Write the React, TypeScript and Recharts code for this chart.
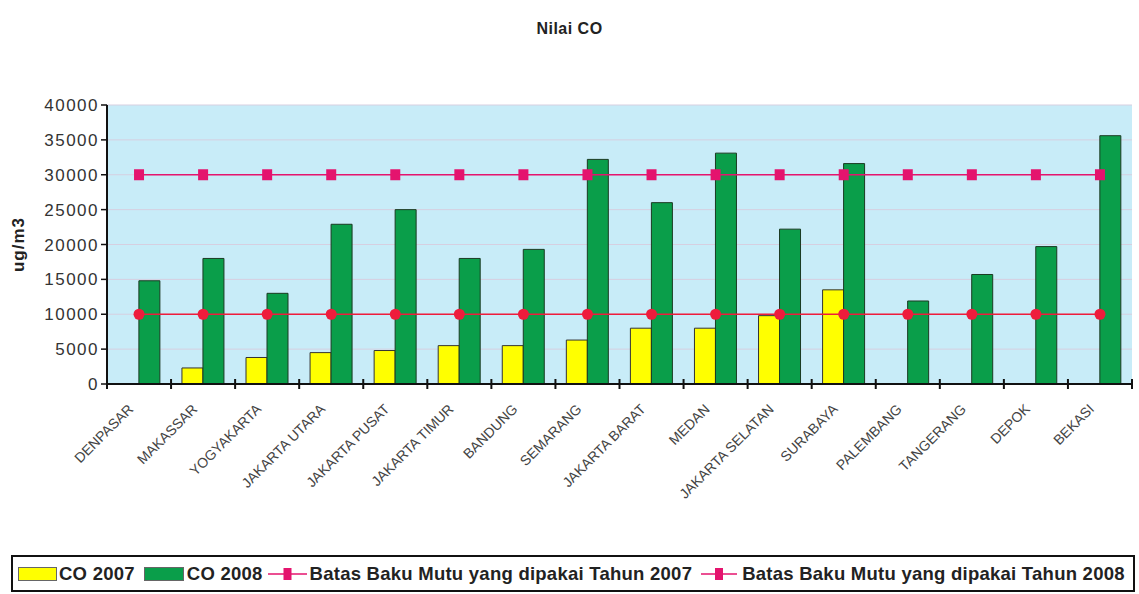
import {
  ComposedChart,
  Bar,
  Line,
  XAxis,
  YAxis,
  CartesianGrid,
} from "recharts";

// cities on the x axis
const cities = [
  "DENPASAR",
  "MAKASSAR",
  "YOGYAKARTA",
  "JAKARTA UTARA",
  "JAKARTA PUSAT",
  "JAKARTA TIMUR",
  "BANDUNG",
  "SEMARANG",
  "JAKARTA BARAT",
  "MEDAN",
  "JAKARTA SELATAN",
  "SURABAYA",
  "PALEMBANG",
  "TANGERANG",
  "DEPOK",
  "BEKASI",
];

// CO values (ug/m3), null = no measurement
const co2007 = [null, 2300, 3800, 4500, 4800, 5500, 5500, 6300, 8000, 8000, 9800, 13500, null, null, null, null];
const co2008 = [14800, 18000, 13000, 22900, 25000, 18000, 19300, 32200, 26000, 33100, 22200, 31600, 11900, 15700, 19700, 35600];

// quality standards
const batas2007 = [30000, 30000, 30000, 30000, 30000, 30000, 30000, 30000, 30000, 30000, 30000, 30000, 30000, 30000, 30000, 30000];
const batas2008 = [10000, 10000, 10000, 10000, 10000, 10000, 10000, 10000, 10000, 10000, 10000, 10000, 10000, 10000, 10000, 10000];

const yTicks = [0, 5000, 10000, 15000, 20000, 25000, 30000, 35000, 40000];

const data = cities.map((city, i) => ({
  city,
  co2007: co2007[i],
  co2008: co2008[i],
  batas2007: batas2007[i],
  batas2008: batas2008[i],
}));

const FONT = "Arial, 'Liberation Sans', sans-serif";

// rotated city label, plus the excel-style tick mark between categories
const CityTick = (props: any) => {
  const { x, y, payload, index } = props;
  const half = payload.offset || 32;
  const tx = x - 5;
  const ty = y + 26;
  return (
    <g>
      <line x1={x - half} x2={x - half} y1={y - 5} y2={y + 5} stroke="#111" strokeWidth={2} />
      {index === cities.length - 1 && (
        <line x1={x + half} x2={x + half} y1={y - 5} y2={y + 5} stroke="#111" strokeWidth={2} />
      )}
      <text
        x={tx}
        y={ty}
        textAnchor="end"
        transform={`rotate(-45, ${tx}, ${ty})`}
        fontSize={14}
        fill="#444"
        fontFamily={FONT}
      >
        {payload.value}
      </text>
    </g>
  );
};

const SquareDot = (props: any) => {
  const { cx, cy } = props;
  if (cx == null || cy == null) return null;
  return <rect x={cx - 5} y={cy - 5.5} width={10} height={11} fill="#e4146e" />;
};

const RoundDot = (props: any) => {
  const { cx, cy } = props;
  if (cx == null || cy == null) return null;
  return <circle cx={cx} cy={cy} r={5.5} fill="#ee1c3c" />;
};

const LineSwatch = ({ color, width }: { color: string; width: number }) => (
  <svg width={width} height={16} style={{ flex: "none" }}>
    <line x1={0} x2={width} y1={8} y2={8} stroke="#e4146e" strokeWidth={1.5} />
    <rect x={width / 2 - 4} y={2} width={8} height={12} fill={color} />
  </svg>
);

const BoxSwatch = ({ color, width }: { color: string; width: number }) => (
  <span
    style={{
      display: "inline-block",
      flex: "none",
      width,
      height: 14,
      boxSizing: "border-box",
      background: color,
      border: "1px solid #666",
    }}
  />
);

export default function App() {
  return (
    <div style={{ position: "absolute", left: 0, top: 0, width: 1139, height: 594, background: "#fff", fontFamily: FONT }}>
      <div
        style={{
          position: "absolute",
          left: 0,
          width: 1139,
          top: 20,
          textAlign: "center",
          fontWeight: "bold",
          fontSize: 16,
          letterSpacing: 0.5,
          color: "#222",
        }}
      >
        Nilai CO
      </div>
      <ComposedChart
        width={1139}
        height={594}
        data={data}
        margin={{ top: 105, right: 7, left: 0, bottom: 60 }}
        barCategoryGap="17%"
        barGap={0}
      >
        <CartesianGrid vertical={false} fill="#c8ecf8" stroke="#d6cfe0" />
        <XAxis
          dataKey="city"
          interval={0}
          height={150}
          tickLine={false}
          tickSize={0}
          tickMargin={0}
          axisLine={{ stroke: "#111", strokeWidth: 2 }}
          tick={<CityTick />}
        />
        <YAxis
          width={107}
          domain={[0, 40000]}
          ticks={yTicks}
          interval={0}
          tickSize={6}
          tickMargin={2}
          axisLine={{ stroke: "#111", strokeWidth: 2 }}
          tickLine={{ stroke: "#111", strokeWidth: 1.5 }}
          tick={{ fill: "#333", fontSize: 17, fontFamily: FONT, letterSpacing: 1.5 }}
          label={{
            value: "ug/m3",
            angle: -90,
            position: "insideLeft",
            offset: 18,
            style: { textAnchor: "middle", fill: "#222", fontSize: 17, fontWeight: "bold", fontFamily: FONT, letterSpacing: 1 },
          }}
        />
        <Bar dataKey="co2007" name="CO 2007" fill="#ffff00" stroke="#333" strokeWidth={1} isAnimationActive={false} />
        <Bar dataKey="co2008" name="CO 2008" fill="#0a9e4a" stroke="#1b3a22" strokeWidth={1} isAnimationActive={false} />
        <Line
          type="linear"
          dataKey="batas2007"
          name="Batas Baku Mutu yang dipakai Tahun 2007"
          stroke="#e4146e"
          strokeWidth={1.5}
          dot={<SquareDot />}
          activeDot={false}
          isAnimationActive={false}
        />
        <Line
          type="linear"
          dataKey="batas2008"
          name="Batas Baku Mutu yang dipakai Tahun 2008"
          stroke="#ee1c3c"
          strokeWidth={1.5}
          dot={<RoundDot />}
          activeDot={false}
          isAnimationActive={false}
        />
      </ComposedChart>
      {/* legend box at the bottom */}
      <div
        style={{
          position: "absolute",
          left: 11,
          top: 555,
          width: 1124,
          height: 37,
          border: "2px solid #111",
          display: "flex",
          alignItems: "center",
          paddingLeft: 5,
          boxSizing: "border-box",
          fontWeight: "bold",
          fontSize: 18.5,
          letterSpacing: 0.25,
          color: "#222",
          whiteSpace: "nowrap",
        }}
      >
        <BoxSwatch color="#ffff00" width={39} />
        <span style={{ marginLeft: 2, marginRight: 9 }}>CO 2007</span>
        <BoxSwatch color="#0a9e4a" width={40} />
        <span style={{ marginLeft: 3, marginRight: 5 }}>CO 2008</span>
        <LineSwatch color="#e4146e" width={39} />
        <span style={{ marginLeft: 3, marginRight: 9 }}>Batas Baku Mutu yang dipakai Tahun 2007</span>
        <LineSwatch color="#e4146e" width={36} />
        <span style={{ marginLeft: 5 }}>Batas Baku Mutu yang dipakai Tahun 2008</span>
      </div>
    </div>
  );
}
